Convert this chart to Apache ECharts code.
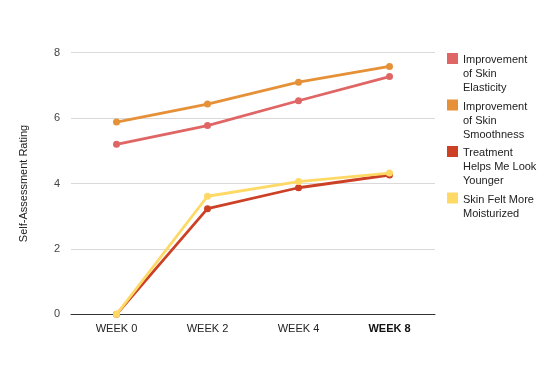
<!DOCTYPE html>
<html>
<head>
<meta charset="utf-8">
<script src="https://cdn.jsdelivr.net/npm/echarts@6/dist/echarts.min.js"></script>
<style>
html,body{margin:0;padding:0;background:#fff;}
#chart{width:557px;height:371px;}
</style>
</head>
<body>
<div id="chart"></div>
<script>
var categories = ['WEEK 0', 'WEEK 2', 'WEEK 4', 'WEEK 8'];
var seriesNames = ['Improvement of Skin Elasticity', 'Improvement of Skin Smoothness', 'Treatment Helps Me Look Younger', 'Skin Felt More Moisturized'];
var legendLabels = ['Improvement\nof Skin\nElasticity', 'Improvement\nof Skin\nSmoothness', 'Treatment\nHelps Me Look\nYounger', 'Skin Felt More\nMoisturized\n '];
var elasticity = [5.2, 5.77, 6.53, 7.27];
var smoothness = [5.88, 6.43, 7.1, 7.58];
var younger = [0, 3.23, 3.87, 4.26];
var moisturized = [0, 3.61, 4.06, 4.32];
var yTicks = [0, 2, 4, 6, 8];
var yAxisTitle = 'Self-Assessment Rating';

var colors = ['#e06666', '#e69138', '#cc4125', '#ffd966'];
var values = [elasticity, smoothness, younger, moisturized];
var font = '"Liberation Sans", Arial, Helvetica, sans-serif';

var chart = echarts.init(document.getElementById('chart'));
chart.setOption({
  animation: false,
  textStyle: { fontFamily: font },
  color: colors,
  grid: { left: 71, right: 122, top: 52.7, bottom: 56.7, containLabel: false },
  legend: {
    orient: 'vertical',
    left: 447,
    top: 53,
    padding: 0,
    itemWidth: 11,
    itemHeight: 42,
    itemGap: 4.5,
    icon: 'path://M0,0H11V11H0Z M0,42L11,42',
    itemStyle: { borderWidth: 0 },
    data: seriesNames,
    formatter: function (name) { return legendLabels[seriesNames.indexOf(name)]; },
    textStyle: { fontSize: 11, color: '#222', lineHeight: 14, fontFamily: font }
  },
  xAxis: {
    type: 'category',
    boundaryGap: true,
    data: categories.map(function (c, i) {
      return i === categories.length - 1 ? { value: c, textStyle: { fontWeight: 'bold', color: '#111' } } : c;
    }),
    axisLine: { show: true, lineStyle: { color: '#333', width: 1 } },
    axisTick: { show: false },
    axisLabel: { fontSize: 11, color: '#222', margin: 9, fontFamily: font },
    splitLine: { show: false }
  },
  yAxis: {
    type: 'value',
    min: yTicks[0],
    max: yTicks[yTicks.length - 1],
    interval: yTicks[1] - yTicks[0],
    name: yAxisTitle,
    nameLocation: 'middle',
    nameGap: 42,
    nameTextStyle: { fontSize: 11, color: '#222', fontFamily: font },
    axisLine: { show: false },
    axisTick: { show: false },
    axisLabel: { fontSize: 11, color: '#444', margin: 11, fontFamily: font },
    splitLine: { lineStyle: { color: '#d9d9d9', width: 1 } }
  },
  series: seriesNames.map(function (n, i) {
    return {
      name: n,
      type: 'line',
      data: values[i],
      symbol: 'circle',
      symbolSize: 7,
      lineStyle: { width: 2.8, color: colors[i] },
      itemStyle: { color: colors[i], borderWidth: 0 },
      z: 2 + i
    };
  })
});
</script>
</body>
</html>
